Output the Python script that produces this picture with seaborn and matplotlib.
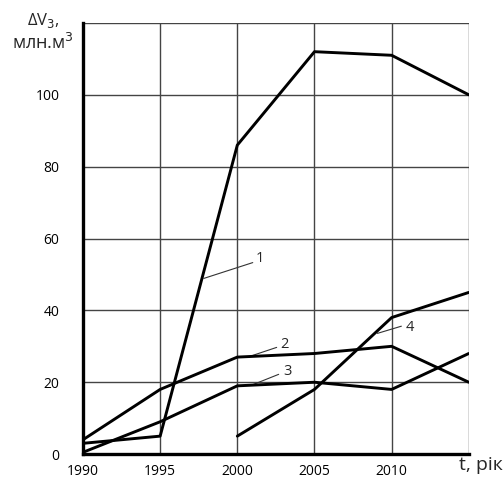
import numpy as np
import pandas as pd
import matplotlib
matplotlib.use('Agg')
import matplotlib.pyplot as plt
import seaborn as sns

years = [1990, 1995, 2000, 2005, 2010, 2015]
curve1 = [3, 5, 86, 112, 111, 100]
curve2 = [4, 18, 27, 28, 30, 20]
curve3 = [0.5, 9, 19, 20, 18, 28]
years4 = [2000, 2005, 2010, 2015]
curve4 = [5, 18, 38, 45]

x_ticks = [1990, 1995, 2000, 2005, 2010]
y_ticks = [0, 20, 40, 60, 80, 100]

sns.set_style('white')
plt.rcParams['font.family'] = ['Open Sans', 'DejaVu Sans']

fig = plt.figure(figsize=(5.03, 4.78), dpi=100)
ax = fig.add_axes([0.165, 0.050, 0.767, 0.902])

# grid
for gx in [1995, 2000, 2005, 2010, 2015]:
    ax.axvline(gx, color='#444444', lw=1.0, zorder=1)
for gy in [20, 40, 60, 80, 100, 120]:
    ax.axhline(gy, color='#444444', lw=1.0, zorder=1)

df = pd.concat([
    pd.DataFrame({'t': years, 'v': curve1, 'c': '1'}),
    pd.DataFrame({'t': years, 'v': curve2, 'c': '2'}),
    pd.DataFrame({'t': years, 'v': curve3, 'c': '3'}),
    pd.DataFrame({'t': years4, 'v': curve4, 'c': '4'}),
])
sns.lineplot(data=df, x='t', y='v', hue='c', palette=['black'] * 4,
             lw=2.1, legend=False, ax=ax, zorder=3)

# leader lines and curve labels
leaders = [((1997.83, 48.9), (2001.0, 53.3), (2001.45, 54.4), '1'),
           ((2000.6, 26.9), (2002.55, 29.7), (2003.07, 30.6), '2'),
           ((2000.93, 19.2), (2002.68, 22.2), (2003.26, 23.1), '3'),
           ((2009.08, 33.6), (2010.63, 35.6), (2011.2, 35.3), '4')]
for p0, p1, pt, lab in leaders:
    ax.plot([p0[0], p1[0]], [p0[1], p1[1]], color='#333333', lw=0.8, zorder=2)
    ax.text(pt[0], pt[1], lab, fontsize=10.5, ha='center', va='center')

ax.set_xlim(1990, 2015)
ax.set_ylim(0, 120)
ax.set_xticks(x_ticks)
ax.set_yticks(y_ticks)
ax.tick_params(axis='both', length=0, labelsize=10, labelcolor='black')
ax.tick_params(axis='y', pad=17)
ax.tick_params(axis='x', pad=7)
ax.set_xlabel('')
ax.set_ylabel('')

for s in ['left', 'bottom']:
    ax.spines[s].set_linewidth(2.4)
    ax.spines[s].set_color('black')
    ax.spines[s].set_zorder(4)
for s in ['top', 'right']:
    ax.spines[s].set_visible(False)

fig.text(0.087, 0.957, 'ΔV$_{3}$,', fontsize=12, ha='center', va='center')
fig.text(0.085, 0.91, 'млн.м$^{3}$', fontsize=13, ha='center', va='center')
fig.text(0.999, 0.027, 't, рік', fontsize=14, ha='right', va='center')

fig.savefig('out.png', dpi=100)
